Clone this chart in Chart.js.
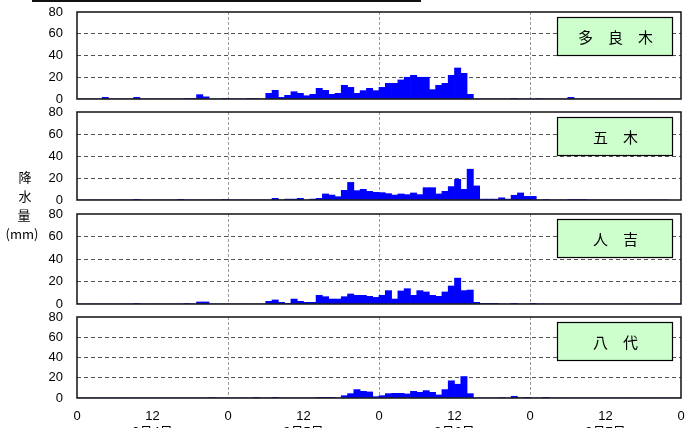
<!DOCTYPE html>
<html>
<head>
<meta charset="utf-8">
<script src="https://cdn.jsdelivr.net/npm/chart.js@4"></script>
<style>
  html, body { margin: 0; padding: 0; background: #fff; }
  #wrap { position: relative; width: 686px; height: 434px; overflow: hidden; }
  #wrap canvas { position: absolute; left: 0; top: 0; }
  #titleRule { position: absolute; left: 32px; top: 0; width: 389px; height: 2px; background: #111; }
  .yl { position: absolute; font: 13px "Noto Sans CJK JP", "Liberation Sans", sans-serif; color: #000;
        transform: translate(-50%, -50%); white-space: nowrap; line-height: 1; }
</style>
</head>
<body>
<div id="wrap">
  <div id="titleRule"></div>
  <canvas id="c0" width="686" height="434"></canvas>
  <canvas id="c1" width="686" height="434"></canvas>
  <canvas id="c2" width="686" height="434"></canvas>
  <canvas id="c3" width="686" height="434"></canvas>
  <span class="yl" style="left:25px;top:176px">降</span>
  <span class="yl" style="left:25px;top:195px">水</span>
  <span class="yl" style="left:24px;top:214px">量</span>
  <span class="yl" style="left:22px;top:233px">(mm)</span>
</div>
<script>
// Hourly rainfall (mm), 9/4 00:00 – 9/8 00:00, one value per hour (96 hours)
const taragi = [
  0, 0, 0, 0, 1.5, 0, 0, 0, 0, 1.5, 0, 0, 0, 0, 0, 0, 0, 0.5, 0.5, 4, 2, 0, 0, 0.5,
  0, 0, 0, 0.5, 0.5, 0, 5.2, 8, 1.5, 3.4, 6.7, 5.2, 3, 4.3, 9.8, 8, 4.3, 5.2, 12.6, 10.7, 5.2, 7.7, 9.8, 7.7,
  10.7, 14.4, 14.4, 17.5, 20, 21.8, 20, 20, 8.6, 12.6, 14.4, 21.8, 28.5, 23.6, 4.3, 0, 0, 0, 0, 0, 0, 0.5, 0, 0,
  0, 0.5, 0, 0, 0, 0, 1.5, 0, 0, 0, 0, 0, 0, 0, 0, 0, 0, 0, 0, 0, 0, 0, 0, 0
];
const itsuki = [
  0, 0, 0, 0, 0, 0, 0, 0, 0, 0.3, 0, 0, 0, 0, 0, 0, 0.3, 0, 0, 0, 0, 0, 0, 0.5,
  0, 0, 0, 0, 0, 0, 0, 1.5, 0, 0.8, 0.8, 1.5, 0, 0.8, 1.5, 5.5, 4.5, 3, 8.8, 16, 8.5, 9.7, 7.9, 7,
  6.7, 5.8, 4.5, 5.5, 4.9, 6.4, 4.9, 11.2, 11.2, 5.5, 7.9, 12.2, 18.8, 9.7, 28, 12.8, 0.8, 0.8, 0.8, 2, 0.8, 4.3, 6.4, 3.3,
  3.3, 0, 0.5, 0, 0, 0, 0.5, 0.5, 0.5, 0, 0, 0, 0, 0, 0, 0, 0, 0, 0, 0, 0, 0
];
const hitoyoshi = [
  0, 0, 0, 0, 0, 0, 0, 0, 0, 0.5, 0, 0, 0, 0, 0, 0, 0, 0.5, 0, 1.8, 1.8, 0, 0, 0,
  0, 0, 0, 0, 0, 0, 2.4, 3.6, 1.5, 0.3, 4.4, 2.4, 1.5, 1.5, 7.7, 6.5, 4.4, 4.4, 6.5, 8.9, 7.7, 7.7, 6.8, 5.9,
  7.7, 11.9, 4.4, 11.6, 13.6, 7.7, 11.9, 10.7, 7.7, 6.8, 10.7, 16, 23, 11.9, 12.4, 1.5, 0.6, 0.6, 0.6, 0, 0, 0.6, 0, 0,
  0.6, 0, 0, 0, 0, 0, 0, 0, 0, 0, 0, 0, 0, 0, 0, 0, 0, 0, 0, 0, 0, 0, 0, 0
];
const yatsushiro = [
  0, 0, 0, 0, 0, 0, 0, 0, 0, 0, 0, 0, 0, 0, 0, 0, 0, 0, 0, 0, 0, 0.5, 0, 0,
  0, 0, 0, 0, 0.3, 0, 0, 0.3, 0, 0, 0, 0, 0, 0, 0.3, 0.3, 0.3, 0, 2.3, 4.3, 8.3, 6.6, 6, 1.3,
  2.3, 4.3, 4.6, 4.6, 4, 6.6, 5.6, 7.3, 5.6, 3, 8.3, 17, 13.6, 21.2, 4.3, 0, 0, 0, 0, 0.5, 0, 1.7, 0, 0.3,
  0, 0, 0.3, 0, 0, 0, 0, 0, 0, 0, 0, 0, 0, 0, 0, 0, 0, 0, 0, 0, 0, 0, 0, 0
];

const stationNames = ['多　良　木', '五　木', '人　吉', '八　代'];
const hourTickLabels = ['0', '12', '0', '12', '0', '12', '0', '12', '0'];
const dateLabels = ['9月4日', '9月5日', '9月6日', '9月7日'];
const yTicks = [0, 20, 40, 60, 80];

const series = [taragi, itsuki, hitoyoshi, yatsushiro];
// vertical placement of each panel's plot area
const panelBox = [
  { top: 12, bottom: 99 },
  { top: 112, bottom: 200 },
  { top: 214, bottom: 304 },
  { top: 317, bottom: 398 }
];
const W = 686, H = 434;
const FONT = '"Liberation Sans", "Noto Sans CJK JP", Arial, sans-serif';

// frame around the plot area plus the station name box
const panelFrame = {
  id: 'panelFrame',
  afterDatasetsDraw(chart, args, opts) {
    const { ctx, chartArea: a } = chart;
    ctx.save();
    ctx.strokeStyle = '#111';
    ctx.lineWidth = 1.5;
    ctx.strokeRect(a.left, a.top, a.right - a.left, a.bottom - a.top);
    const bw = 115, bh = 38;
    const bx = a.right - 9 - bw, by = a.top + 5;
    ctx.fillStyle = '#ccffcc';
    ctx.fillRect(bx, by, bw, bh);
    ctx.lineWidth = 1.2;
    ctx.strokeStyle = '#000';
    ctx.strokeRect(bx + 0.5, by + 0.5, bw, bh);
    ctx.fillStyle = '#000';
    ctx.font = '15px "Noto Sans CJK JP", sans-serif';
    ctx.textAlign = 'center';
    ctx.textBaseline = 'middle';
    ctx.fillText(opts.name, bx + bw / 2 + 1, by + bh / 2 + 1);
    ctx.restore();
  }
};

series.forEach((vals, k) => {
  const last = k === series.length - 1;
  const xh = last ? 30 : 0;
  const pb = panelBox[k];
  new Chart(document.getElementById('c' + k), {
    type: 'bar',
    data: {
      datasets: [{
        data: vals.map((v, i) => ({ x: i + 0.5, y: v })),
        backgroundColor: '#0000ff',
        borderWidth: 0,
        barPercentage: 1,
        categoryPercentage: 1
      }]
    },
    options: {
      responsive: false,
      animation: false,
      devicePixelRatio: 1,
      layout: { padding: { top: pb.top, bottom: H - pb.bottom - xh, left: 0, right: 5 } },
      plugins: {
        legend: { display: false },
        tooltip: { enabled: false },
        panelFrame: { name: stationNames[k] }
      },
      scales: {
        x: {
          type: 'linear',
          min: 0,
          max: 96,
          offset: false,
          afterFit: s => { s.height = xh; s.paddingLeft = 0; s.paddingRight = 0; },
          afterBuildTicks: s => { s.ticks = hourTickLabels.map((_, i) => ({ value: i * 12 })); },
          grid: {
            offset: false,
            drawTicks: false,
            color: c => (c.tick && c.tick.value % 24 === 0 && c.tick.value > 0 && c.tick.value < 96) ? '#9a9a9a' : 'rgba(0,0,0,0)',
            lineWidth: 1
          },
          border: { display: false, dash: [3, 2] },
          ticks: {
            display: last,
            padding: 11,
            color: '#000',
            maxRotation: 0,
            autoSkip: false,
            font: { family: FONT, size: 13, lineHeight: 1.2 },
            callback: (v) => {
              const i = Math.round(v / 12);
              const lab = hourTickLabels[i];
              return (i % 2 === 1) ? [lab, dateLabels[(i - 1) / 2]] : lab;
            }
          }
        },
        y: {
          min: 0,
          max: 80,
          afterFit: s => { s.width = 77; s.paddingTop = 0; s.paddingBottom = 0; },
          afterBuildTicks: s => { s.ticks = yTicks.map(v => ({ value: v })); },
          grid: {
            drawTicks: false,
            color: c => (c.tick && c.tick.value > 0 && c.tick.value < 80) ? '#555' : 'rgba(0,0,0,0)',
            lineWidth: 1
          },
          border: { display: false, dash: [4, 3] },
          ticks: {
            padding: 14,
            color: '#000',
            font: { family: FONT, size: 13 }
          }
        }
      }
    },
    plugins: [panelFrame]
  });
});
</script>
</body>
</html>
